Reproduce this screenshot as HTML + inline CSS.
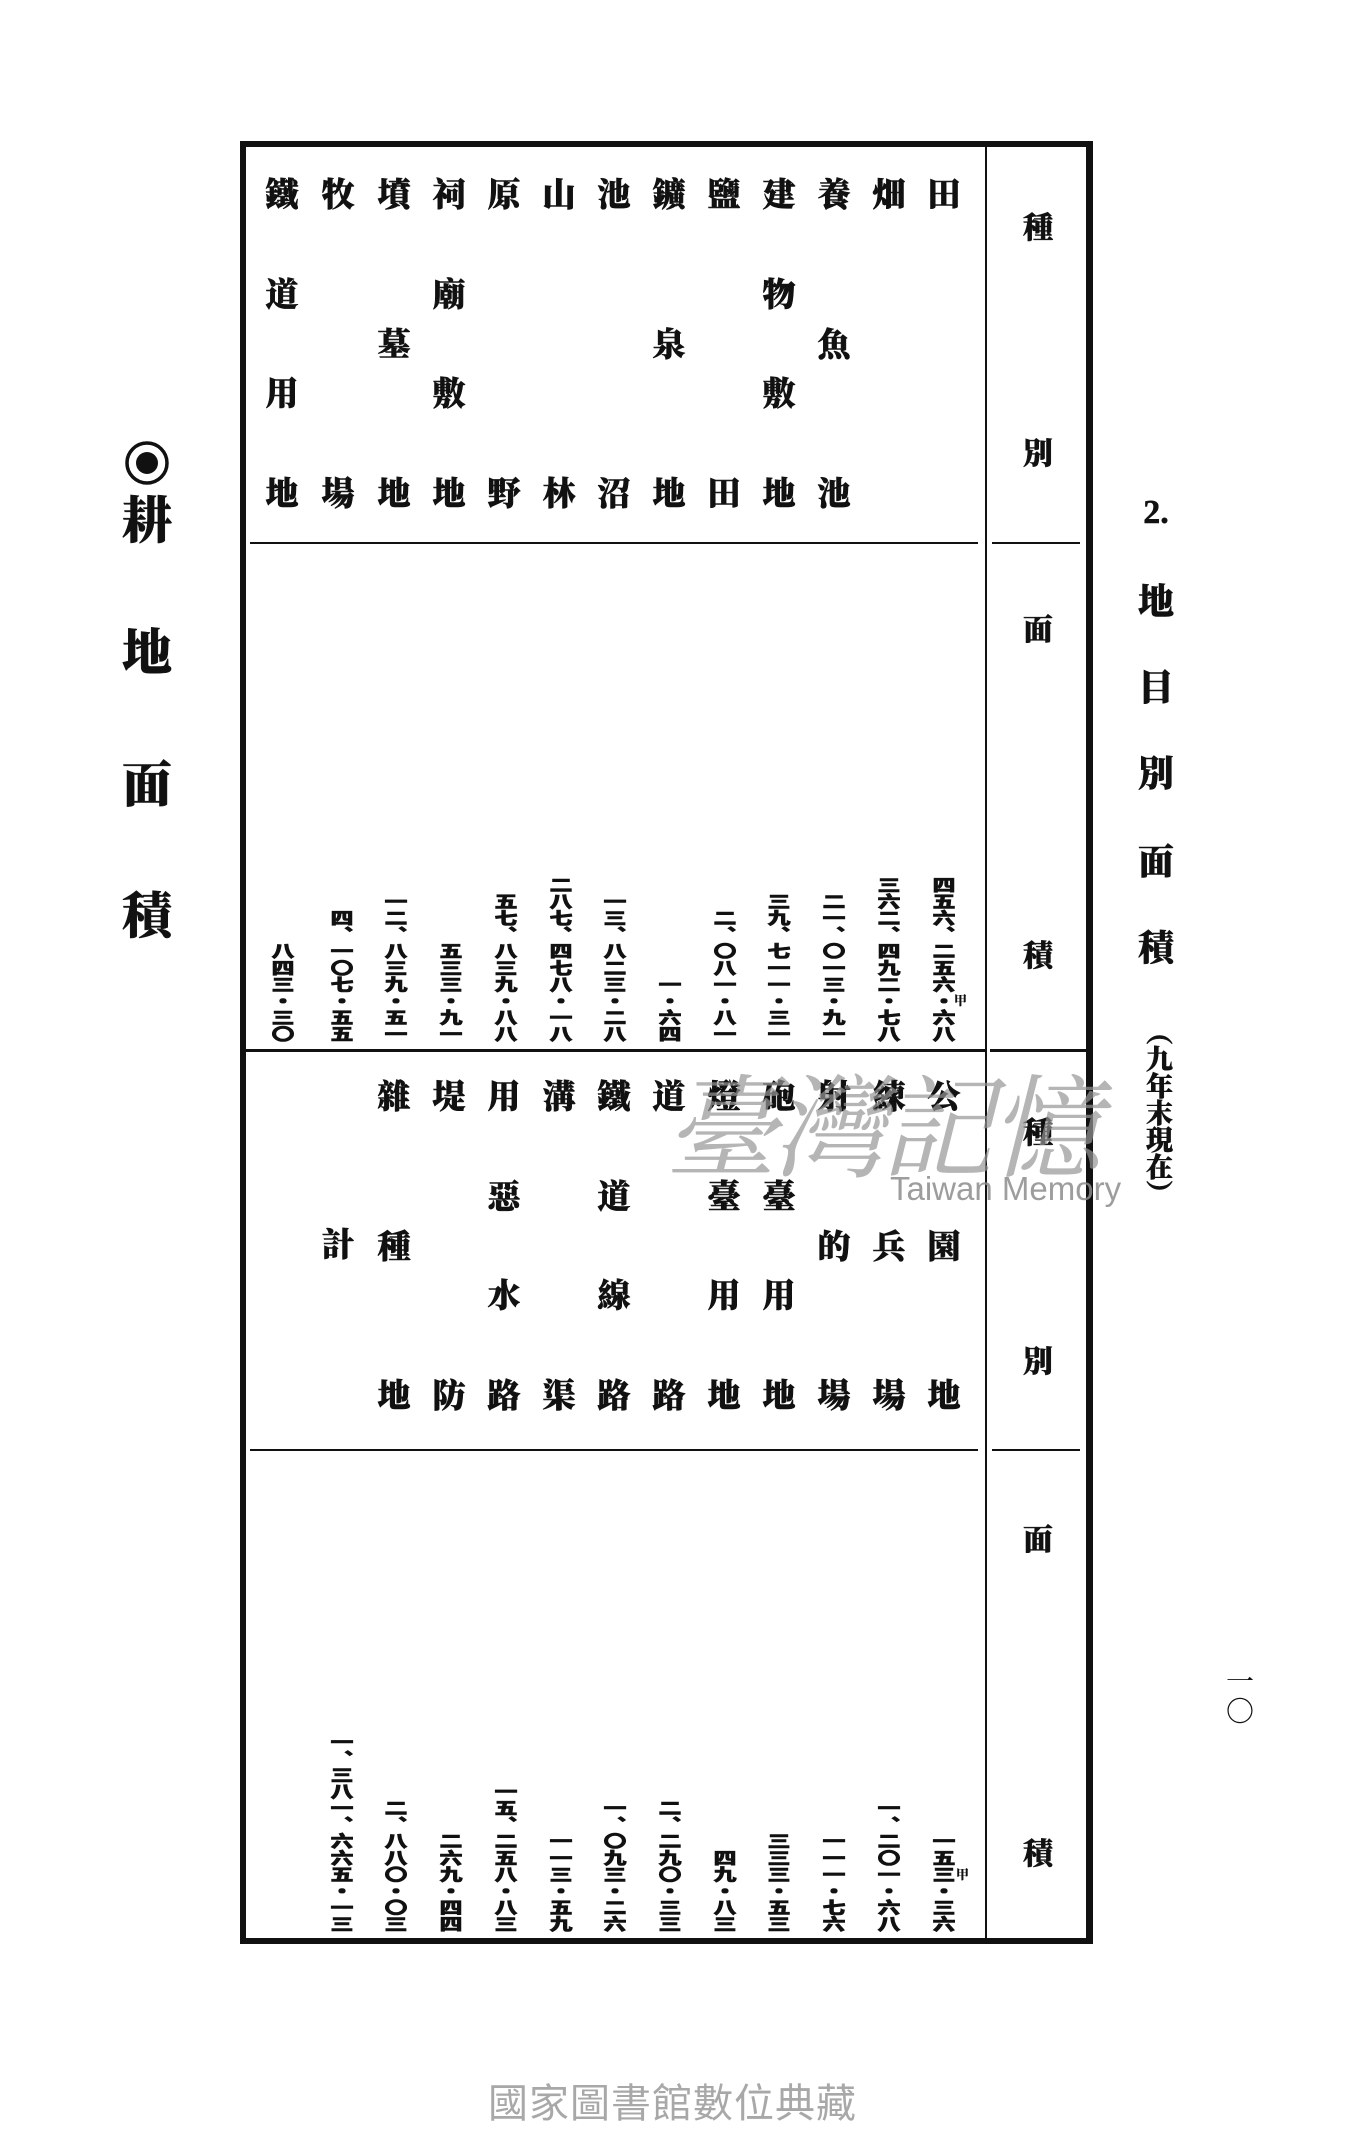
<!DOCTYPE html>
<html><head><meta charset="utf-8">
<style>
html,body{margin:0;padding:0;background:#fff;}
body{width:1350px;height:2150px;position:relative;overflow:hidden;font-family:"Liberation Serif","Noto Serif CJK SC","Noto Sans CJK SC",serif;color:#111;}
.a{position:absolute;}
.col{position:absolute;width:36px;display:flex;flex-direction:column;justify-content:space-between;align-items:center;font-size:33px;font-weight:900;line-height:1;-webkit-text-stroke:0.6px #111;}
.col span{display:block;height:34px;}
.num{position:absolute;width:24px;writing-mode:vertical-rl;font-size:23px;font-weight:900;line-height:24px;transform:scaleY(0.72);transform-origin:bottom center;white-space:nowrap;font-family:"Noto Sans CJK SC","Noto Serif CJK SC",sans-serif;-webkit-text-stroke:0.8px #111;}
.h{position:absolute;font-size:30px;font-weight:900;width:40px;text-align:center;line-height:1;-webkit-text-stroke:0.5px #111;}
.ln{position:absolute;background:#111;}
</style></head><body>

<div class="ln" style="left:240px;top:141px;width:852px;height:6px;"></div>
<div class="ln" style="left:240px;top:1938px;width:852px;height:6px;"></div>
<div class="ln" style="left:240px;top:141px;width:6px;height:1803px;"></div>
<div class="ln" style="left:1086px;top:141px;width:7px;height:1803px;"></div>
<div class="ln" style="left:985px;top:147px;width:2px;height:1792px;"></div>
<div class="ln" style="left:250px;top:542px;width:728px;height:2px;"></div>
<div class="ln" style="left:992px;top:542px;width:88px;height:2px;"></div>
<div class="ln" style="left:246px;top:1049px;width:740px;height:3px;"></div>
<div class="ln" style="left:990px;top:1049px;width:96px;height:3px;"></div>
<div class="ln" style="left:250px;top:1449px;width:728px;height:2px;"></div>
<div class="ln" style="left:992px;top:1449px;width:88px;height:2px;"></div>

<div class="h" style="left:1018px;top:214px;">種</div>
<div class="h" style="left:1018px;top:440px;">別</div>
<div class="h" style="left:1018px;top:616px;">面</div>
<div class="h" style="left:1018px;top:942px;">積</div>
<div class="h" style="left:1018px;top:1119px;">種</div>
<div class="h" style="left:1018px;top:1348px;">別</div>
<div class="h" style="left:1018px;top:1526px;">面</div>
<div class="h" style="left:1018px;top:1840px;">積</div>

<div class="col" style="left:926px;top:180px;height:333px;justify-content:flex-start"><span>田</span></div>
<div class="col" style="left:871px;top:180px;height:333px;justify-content:flex-start"><span>畑</span></div>
<div class="col" style="left:816px;top:180px;height:333px;"><span>養</span><span>魚</span><span>池</span></div>
<div class="col" style="left:761px;top:180px;height:333px;"><span>建</span><span>物</span><span>敷</span><span>地</span></div>
<div class="col" style="left:706px;top:180px;height:333px;"><span>鹽</span><span>田</span></div>
<div class="col" style="left:651px;top:180px;height:333px;"><span>鑛</span><span>泉</span><span>地</span></div>
<div class="col" style="left:596px;top:180px;height:333px;"><span>池</span><span>沼</span></div>
<div class="col" style="left:541px;top:180px;height:333px;"><span>山</span><span>林</span></div>
<div class="col" style="left:486px;top:180px;height:333px;"><span>原</span><span>野</span></div>
<div class="col" style="left:431px;top:180px;height:333px;"><span>祠</span><span>廟</span><span>敷</span><span>地</span></div>
<div class="col" style="left:376px;top:180px;height:333px;"><span>墳</span><span>墓</span><span>地</span></div>
<div class="col" style="left:320px;top:180px;height:333px;"><span>牧</span><span>場</span></div>
<div class="col" style="left:264px;top:180px;height:333px;"><span>鐵</span><span>道</span><span>用</span><span>地</span></div>

<div class="num" style="left:932px;bottom:1108px;">四五六、二五六・六八</div>
<div class="a" style="left:954px;top:990px;font-size:13px;font-weight:900;">甲</div>
<div class="num" style="left:877px;bottom:1108px;">三六二、四九二・七八</div>
<div class="num" style="left:822px;bottom:1108px;">二一、〇一三・九一</div>
<div class="num" style="left:767px;bottom:1108px;">三九、七一一・三一</div>
<div class="num" style="left:713px;bottom:1108px;">二、〇八一・八一</div>
<div class="num" style="left:658px;bottom:1108px;">一・六四</div>
<div class="num" style="left:603px;bottom:1108px;">一三、八二三・二八</div>
<div class="num" style="left:549px;bottom:1108px;">二八七、四七八・一八</div>
<div class="num" style="left:494px;bottom:1108px;">五七、八三九・八八</div>
<div class="num" style="left:439px;bottom:1108px;">五三三・九一</div>
<div class="num" style="left:384px;bottom:1108px;">一二、八三九・五一</div>
<div class="num" style="left:330px;bottom:1108px;">四、一〇七・五五</div>
<div class="num" style="left:271px;bottom:1108px;">八四三・三〇</div>

<div class="col" style="left:926px;top:1082px;height:333px;"><span>公</span><span>園</span><span>地</span></div>
<div class="col" style="left:871px;top:1082px;height:333px;"><span>練</span><span>兵</span><span>場</span></div>
<div class="col" style="left:816px;top:1082px;height:333px;"><span>射</span><span>的</span><span>場</span></div>
<div class="col" style="left:761px;top:1082px;height:333px;"><span>砲</span><span>臺</span><span>用</span><span>地</span></div>
<div class="col" style="left:706px;top:1082px;height:333px;"><span>燈</span><span>臺</span><span>用</span><span>地</span></div>
<div class="col" style="left:651px;top:1082px;height:333px;"><span>道</span><span>路</span></div>
<div class="col" style="left:596px;top:1082px;height:333px;"><span>鐵</span><span>道</span><span>線</span><span>路</span></div>
<div class="col" style="left:541px;top:1082px;height:333px;"><span>溝</span><span>渠</span></div>
<div class="col" style="left:486px;top:1082px;height:333px;"><span>用</span><span>惡</span><span>水</span><span>路</span></div>
<div class="col" style="left:431px;top:1082px;height:333px;"><span>堤</span><span>防</span></div>
<div class="col" style="left:376px;top:1082px;height:333px;"><span>雜</span><span>種</span><span>地</span></div>
<div class="col" style="left:320px;top:1230px;height:34px;"><span>計</span></div>

<div class="num" style="left:932px;bottom:218px;">一五三・三六</div>
<div class="a" style="left:956px;top:1864px;font-size:13px;font-weight:900;">甲</div>
<div class="num" style="left:877px;bottom:218px;">一、二〇一・六八</div>
<div class="num" style="left:822px;bottom:218px;">一一一・七六</div>
<div class="num" style="left:767px;bottom:218px;">三三三・五三</div>
<div class="num" style="left:713px;bottom:218px;">四九・八三</div>
<div class="num" style="left:658px;bottom:218px;">二、二九〇・三三</div>
<div class="num" style="left:603px;bottom:218px;">一、〇九三・二六</div>
<div class="num" style="left:549px;bottom:218px;">一一三・五九</div>
<div class="num" style="left:494px;bottom:218px;">一五、二五八・八三</div>
<div class="num" style="left:439px;bottom:218px;">二六九・四四</div>
<div class="num" style="left:384px;bottom:218px;">二、八八〇・〇三</div>
<div class="num" style="left:330px;bottom:218px;">一、三八一、六六五・一三</div>

<div class="h" style="left:1136px;top:496px;font-size:34px;font-family:'Liberation Serif',serif;">2.</div>
<div class="h" style="left:1136px;top:584px;font-size:36px;">地</div>
<div class="h" style="left:1136px;top:670px;font-size:36px;">目</div>
<div class="h" style="left:1136px;top:756px;font-size:36px;">別</div>
<div class="h" style="left:1136px;top:844px;font-size:36px;">面</div>
<div class="h" style="left:1136px;top:930px;font-size:36px;">積</div>
<div class="a" style="left:1143px;top:1018px;width:28px;writing-mode:vertical-rl;font-size:27px;font-weight:900;line-height:28px;-webkit-text-stroke:0.5px #111;">（九年末現在）</div>

<div class="a" style="left:122px;top:440px;width:50px;height:46px;">
<svg width="50" height="46"><circle cx="25" cy="23" r="20" fill="none" stroke="#111" stroke-width="3.5"/><circle cx="25" cy="23" r="11" fill="#111"/></svg></div>
<div class="h" style="left:122px;top:496px;width:50px;font-size:50px;">耕</div>
<div class="h" style="left:122px;top:628px;width:50px;font-size:50px;">地</div>
<div class="h" style="left:122px;top:760px;width:50px;font-size:50px;">面</div>
<div class="h" style="left:122px;top:891px;width:50px;font-size:50px;">積</div>

<div class="a" style="left:1226px;top:1668px;width:28px;font-size:28px;line-height:30px;text-align:center;">一<br>〇</div>

<div class="a" style="left:665px;top:1065px;font-size:112px;color:rgba(150,150,150,0.7);font-family:'Noto Serif CJK SC',serif;letter-spacing:-4px;line-height:1;font-style:italic;">臺灣記憶</div>
<div class="a" style="left:890px;top:1172px;font-size:33px;color:rgba(140,140,140,0.85);font-family:'Liberation Sans',sans-serif;line-height:1;">Taiwan Memory</div>

<div class="a" style="left:488px;top:2084px;font-size:40px;letter-spacing:1px;color:#a8a8a8;font-family:'Liberation Sans','Noto Sans CJK TC',sans-serif;line-height:1;">國家圖書館數位典藏</div>

</body></html>
